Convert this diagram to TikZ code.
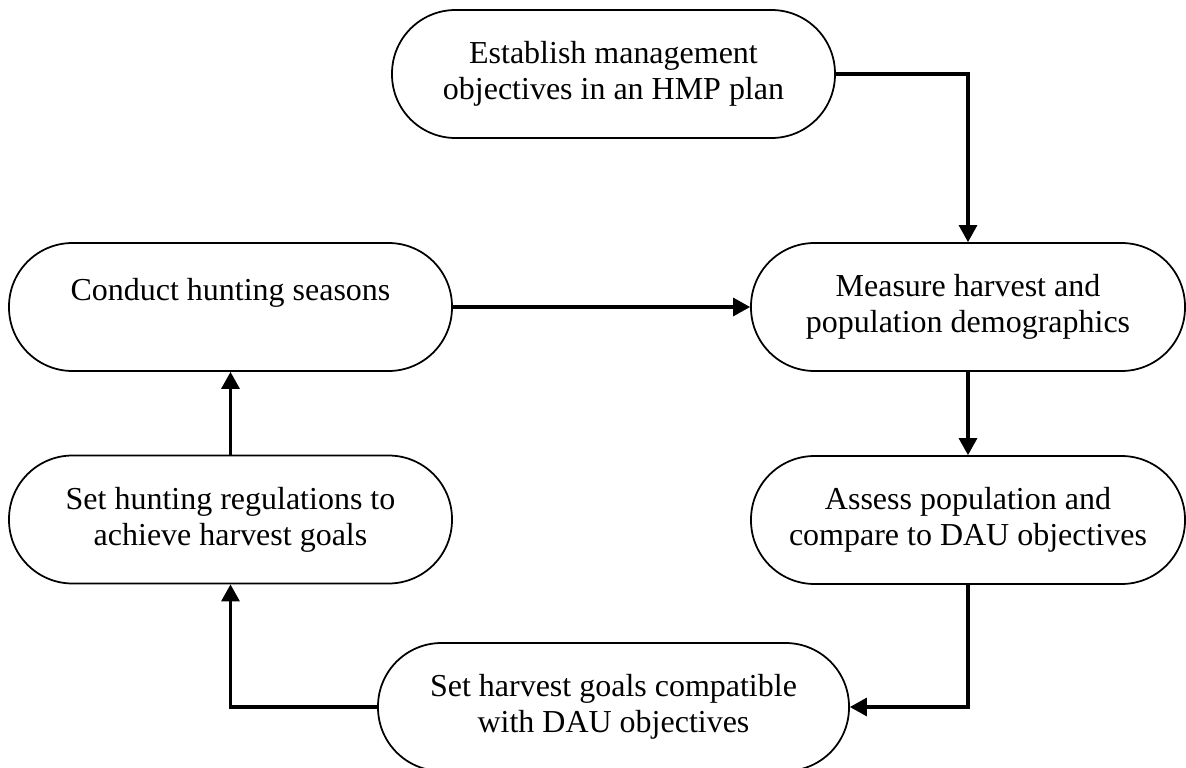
\documentclass[tikz,border=0pt]{standalone}
\usepackage{fontspec}
\setmainfont{Liberation Serif}
\usetikzlibrary{arrows.meta}
\tikzset{
  stadium/.style={draw, line width=0.5pt, rounded corners=0.635cm, minimum height=1.28cm,
    align=center, inner sep=2pt, font=\fontsize{9.1}{10.2}\selectfont},
  conn/.style={line width=0.9pt, -{Triangle[length=0.17cm,width=0.18cm]}}
}
\begin{document}
\begin{tikzpicture}[x=1cm,y=-1cm]
      \useasboundingbox (0,0) rectangle (11.86,7.68);
      \node[stadium, minimum width=4.43cm] (est) at (6.135,0.74) {Establish management\\objectives in an HMP plan};
      \node[stadium, minimum width=4.43cm] (conduct) at (2.305,3.07) {Conduct hunting seasons\\\mbox{}};
      \node[stadium, minimum width=4.34cm] (measure) at (9.68,3.07) {Measure harvest and\\population demographics};
      \node[stadium, minimum width=4.43cm] (setreg) at (2.305,5.195) {Set hunting regulations to\\achieve harvest goals};
      \node[stadium, minimum width=4.34cm] (assess) at (9.68,5.20) {Assess population and\\compare to DAU objectives};
      \node[stadium, minimum width=4.71cm] (setgoal) at (6.135,7.07) {Set harvest goals compatible\\with DAU objectives};
      \draw[conn] (est.east) -| (measure.north);
      \draw[conn] (conduct.east) -- (measure.west);
      \draw[conn] (measure.south) -- (assess.north);
      \draw[conn] (assess.south) |- (setgoal.east);
      \draw[conn] (setgoal.west) -| (setreg.south);
      \draw[conn] (setreg.north) -- (conduct.south);
\end{tikzpicture}
\end{document}
